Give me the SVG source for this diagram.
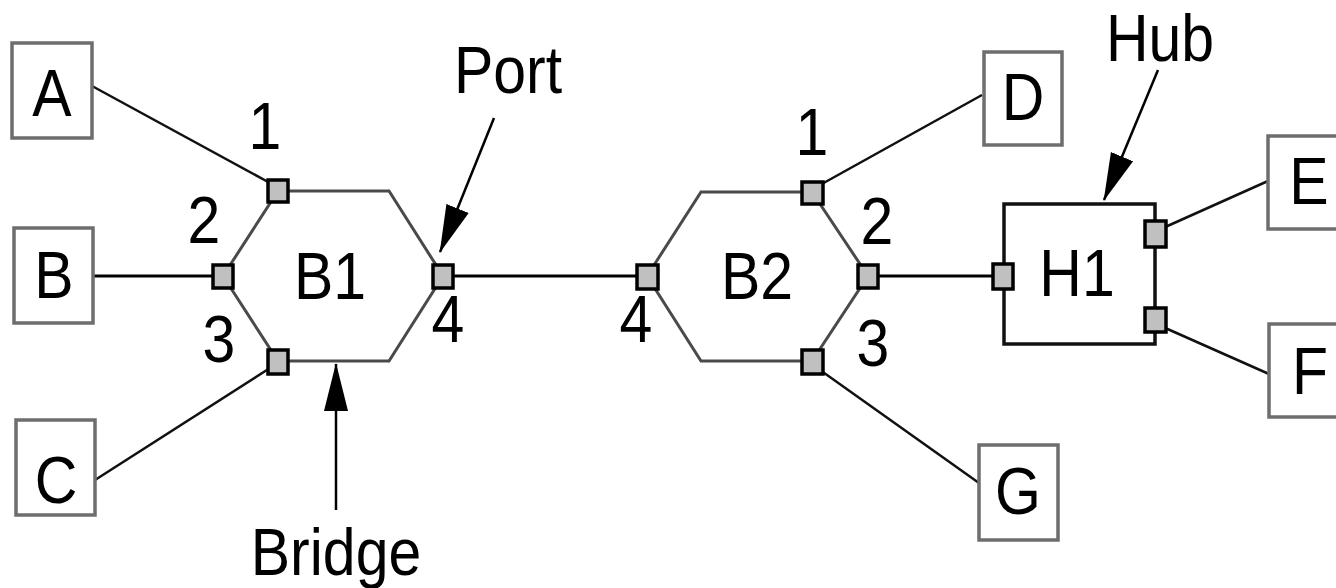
<svg xmlns="http://www.w3.org/2000/svg" width="1336" height="588" viewBox="0 0 1336 588">
<defs>
<marker id="ah" markerUnits="userSpaceOnUse" markerWidth="48" markerHeight="26" viewBox="0 0 48 26" refX="47" refY="13" orient="auto">
<path d="M0,1 L48,13 L0,25 Z" fill="#000"/>
</marker>
<style>
text{font-family:"Liberation Sans",Arial,sans-serif;font-size:67px;fill:#000;text-anchor:middle}
.box{fill:#fff;stroke:#6e6e6e;stroke-width:3.5}
.hub{fill:#fff;stroke:#111;stroke-width:3.5}
.hex{fill:#fff;stroke:#4a4a4a;stroke-width:3}
.port{fill:#c0c0c0;stroke:#000;stroke-width:3.5}
.ln{stroke:#111;stroke-width:2.5;fill:none}
.ln2{stroke:#000;stroke-width:3;fill:none}
.arr{stroke:#000;stroke-width:2.5;fill:none;marker-end:url(#ah)}
</style>
</defs>
<rect width="1336" height="588" fill="#fff"/>
<g id="connectors">
<line class="ln" x1="92" y1="86" x2="270" y2="183"/>
<line class="ln2" x1="93" y1="276" x2="215" y2="276"/>
<line class="ln" x1="95" y1="480" x2="270" y2="368"/>
<line class="ln2" x1="453" y1="276" x2="640" y2="276"/>
<line class="ln" x1="982" y1="95" x2="820" y2="185"/>
<line class="ln2" x1="876" y1="276" x2="995" y2="276"/>
<line class="ln" x1="820" y1="370" x2="979" y2="483"/>
<line class="ln" x1="1163" y1="228" x2="1268" y2="181"/>
<line class="ln" x1="1163" y1="327" x2="1269" y2="374"/>
<line class="arr" x1="494" y1="118" x2="440" y2="252"/>
<line class="arr" x1="336" y1="510" x2="336" y2="364"/>
<line class="arr" x1="1158" y1="70" x2="1104" y2="200"/>
</g>
<g id="A"><rect class="box" x="12" y="43" width="80" height="95"/><text transform="translate(52,116) scale(0.88,1)">A</text></g>
<g id="B"><rect class="box" x="14" y="228" width="79" height="95"/><text transform="translate(54,298) scale(0.88,1)">B</text></g>
<g id="C"><rect class="box" x="16" y="420" width="79" height="95"/><text transform="translate(56,503) scale(0.88,1)">C</text></g>
<g id="D"><rect class="box" x="984" y="52" width="78" height="93"/><text transform="translate(1023,120) scale(0.88,1)">D</text></g>
<g id="E"><rect class="box" x="1268" y="136" width="80" height="93"/><text transform="translate(1309,204) scale(0.88,1)">E</text></g>
<g id="F"><rect class="box" x="1269" y="324" width="80" height="93"/><text transform="translate(1310,394) scale(0.88,1)">F</text></g>
<g id="G"><rect class="box" x="979" y="445" width="79" height="95"/><text transform="translate(1018,514) scale(0.88,1)">G</text></g>
<g id="B1">
<polygon class="hex" points="278,191 389,191 443,276 389,361 278,361 223,276"/>
<text transform="translate(330,299) scale(0.88,1)">B1</text>
<rect class="port" x="268" y="180" width="20" height="22"/>
<rect class="port" x="213" y="265" width="20" height="23"/>
<rect class="port" x="268" y="350" width="20" height="24"/>
<rect class="port" x="433" y="265" width="20" height="23"/>
<text transform="translate(265,149) scale(0.88,1)">1</text>
<text transform="translate(204,243) scale(0.88,1)">2</text>
<text transform="translate(219,362) scale(0.88,1)">3</text>
<text transform="translate(448,342) scale(0.88,1)">4</text>
</g>
<g id="B2">
<polygon class="hex" points="701,192 812,192 868,276 812,361 701,361 647,276"/>
<text transform="translate(757,299) scale(0.88,1)">B2</text>
<rect class="port" x="802" y="182" width="21" height="22"/>
<rect class="port" x="858" y="265" width="20" height="23"/>
<rect class="port" x="802" y="350" width="21" height="24"/>
<rect class="port" x="637" y="265" width="21" height="24"/>
<text transform="translate(812,155) scale(0.88,1)">1</text>
<text transform="translate(877,244) scale(0.88,1)">2</text>
<text transform="translate(873,366) scale(0.88,1)">3</text>
<text transform="translate(636,342) scale(0.88,1)">4</text>
</g>
<g id="H1">
<rect class="hub" x="1004" y="204" width="151" height="140"/>
<text transform="translate(1077,296) scale(0.88,1)">H1</text>
<rect class="port" x="993" y="264" width="20" height="25"/>
<rect class="port" x="1145" y="221" width="21" height="26"/>
<rect class="port" x="1145" y="308" width="21" height="24"/>
</g>
<g id="labels">
<text transform="translate(508,93) scale(0.88,1)">Port</text>
<text transform="translate(336,575) scale(0.88,1)">Bridge</text>
<text transform="translate(1160,61) scale(0.88,1)">Hub</text>
</g>
</svg>
